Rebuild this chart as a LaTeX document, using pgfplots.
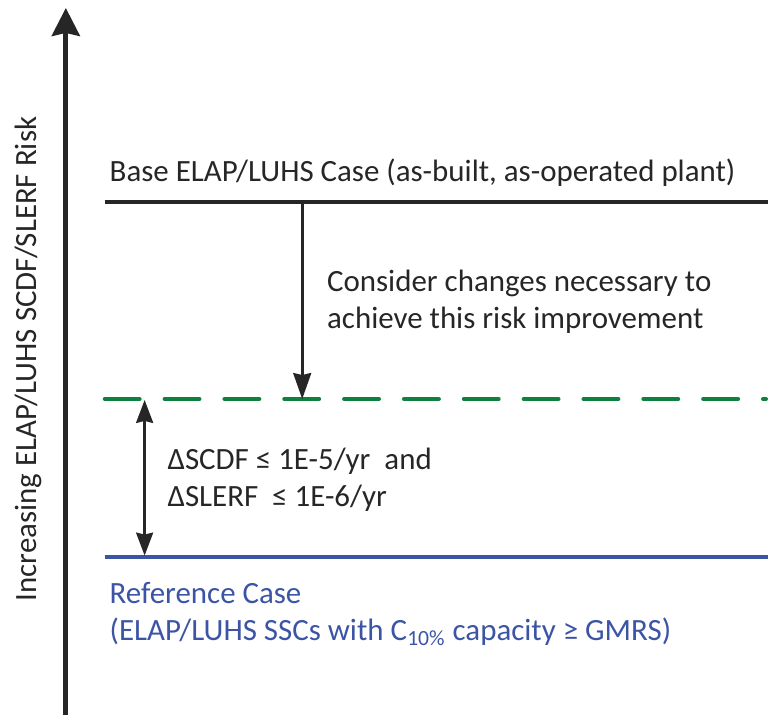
\documentclass[border=0pt]{standalone}
\usepackage{pgfplots}
\pgfplotsset{compat=1.18}
\usepackage{fontspec}
\setmainfont{Carlito}
\usetikzlibrary{arrows.meta}
\definecolor{dgreen}{RGB}{16,128,64}
\definecolor{dblue}{RGB}{59,84,166}
\definecolor{txt}{RGB}{38,38,38}
\tikzset{lab/.style={font=\fontsize{15.5}{18}\selectfont, text=txt, inner sep=0pt, outer sep=0pt}}
\begin{document}
\begin{tikzpicture}
\begin{axis}[
  scale only axis, width=385pt, height=358.5pt,
  xmin=0, xmax=770, ymin=0, ymax=717, y dir=reverse,
  hide axis, clip=false,
]
% keep the full frame in the bounding box
\path (axis cs:0,0) rectangle (axis cs:770,717);
% main vertical axis arrow
\addplot[txt, line width=2.5pt, -{Stealth[length=14pt, width=14pt, inset=1.5pt]}] coordinates {(66,717) (66,8)};
% base case line
\addplot[txt, line width=2pt] coordinates {(105,203) (770,203)};
% green dashed target line
\addplot[dgreen, line width=2pt, line cap=round, dash pattern=on 17.5pt off 12.5pt] coordinates {(105,400) (768,400)};
% reference case line
\addplot[dblue, line width=2pt] coordinates {(105,558) (770,558)};
% down arrow
\addplot[txt, line width=1.3pt, -{Stealth[length=13pt, width=9pt, inset=1pt]}] coordinates {(303,204) (303,400)};
% double arrow
\addplot[txt, line width=1.3pt, {Stealth[length=11.5pt, width=8.5pt, inset=1pt]}-{Stealth[length=11.5pt, width=8.5pt, inset=1pt]}] coordinates {(145,401) (145,557)};

\node[lab, anchor=base west] at (axis cs:110,182) {Base ELAP/LUHS Case (as-built, as-operated plant)};
\node[lab, anchor=base west] at (axis cs:328,292) {Consider changes necessary to};
\node[lab, anchor=base west] at (axis cs:328,329) {achieve this risk improvement};
\node[lab, anchor=base west] at (axis cs:168,471) {ΔSCDF ≤ 1E-5/yr\ \ and};
\node[lab, anchor=base west] at (axis cs:168,508) {ΔSLERF\ \ ≤ 1E-6/yr};
\node[lab, anchor=base west, text=dblue] at (axis cs:110,605) {Reference Case};
\node[lab, anchor=base west, text=dblue] at (axis cs:110,642) {(ELAP/LUHS SSCs with C\textsubscript{10\%} capacity ≥ GMRS)};
\node[lab, anchor=base, rotate=90] at (axis cs:37,360) {Increasing ELAP/LUHS SCDF/SLERF Risk};
\end{axis}
\end{tikzpicture}
\end{document}
